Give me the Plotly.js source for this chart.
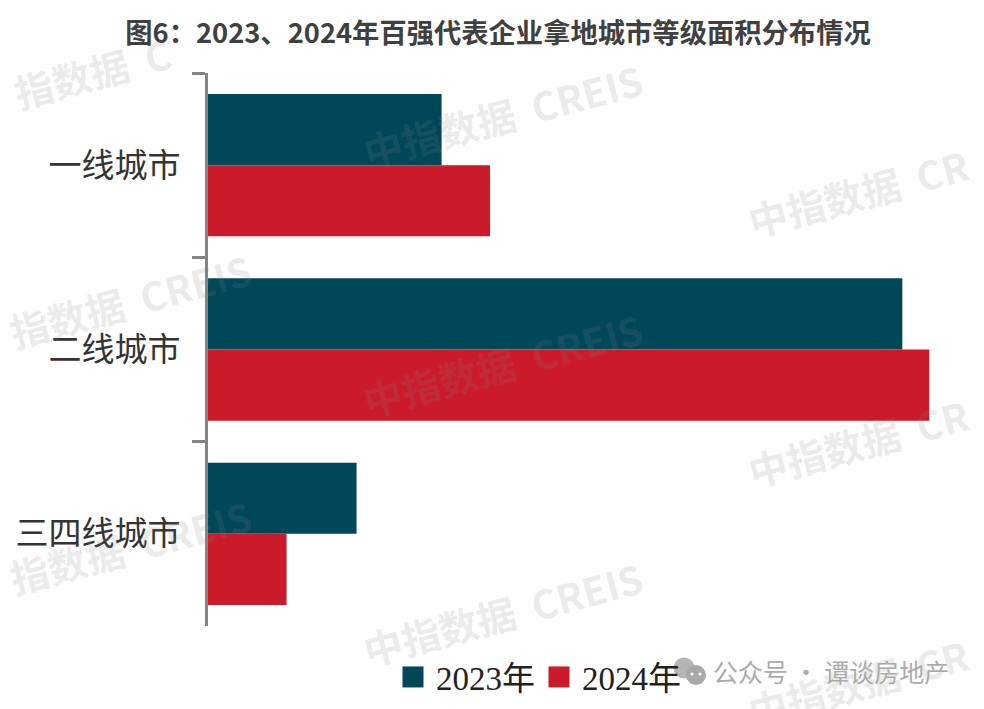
<!DOCTYPE html>
<html><head><meta charset="utf-8">
<script src="https://cdn.plot.ly/plotly-3.0.1.min.js"></script>
<style>html,body{margin:0;padding:0;background:#fff}#c{width:984px;height:709px}</style>
</head><body><div id="c"></div>
<script>
const categories = ["一线城市","二线城市","三四线城市"];
const seriesNames = ["2023年","2024年"];
const values2023 = [21.7, 64.5, 13.8];
const values2024 = [26.2, 67.0, 7.3];
const titleText = "图6：2023、2024年百强代表企业拿地城市等级面积分布情况";
const creditText = "公众号 · 谭谈房地产";
const watermarks = [
 ["指数据  C",92,72],["指数据  CREIS",130,300],["指数据  CREIS",130,546],
 ["中指数据  CREIS",502,115],["中指数据  CREIS",502,364],["中指数据  CREIS",502,613],
 ["中指数据  CR",858,192],["中指数据  CR",858,442],["中指数据  CR",858,682]
];

const W=984,H=709,L=208,T=73,R=44,B=83;
const px=x=>(x-L)/(W-L-R), py=y=>(H-B-y)/(H-T-B);
const wm=watermarks.map(c=>({xref:'paper',yref:'paper',x:px(c[1]),y:py(c[2]),xanchor:'center',yanchor:'middle',
  text:c[0],showarrow:false,textangle:-15,
  font:{family:'"Noto Sans CJK SC"',size:39,weight:700,color:'rgba(130,130,130,0.17)'}}));
const credit={xref:'paper',yref:'paper',x:px(711),y:py(671),xanchor:'left',yanchor:'middle',text:creditText,showarrow:false,
  font:{family:'"Noto Sans CJK SC"',size:25,color:'#ababab'}};
const circ=(cx,cy,r,col)=>({type:'circle',xref:'paper',yref:'paper',layer:'above',x0:px(cx-r),x1:px(cx+r),y0:py(cy+r),y1:py(cy-r),fillcolor:col,line:{width:0}});
const icon=[circ(684,668,10.5,'#b5b5b5'),circ(696,675,10,'#a8a8a8'),circ(692,674,1.5,'#fff'),circ(700,674,1.5,'#fff')];

const data=[
 {type:'bar',orientation:'h',name:seriesNames[0],y:categories,x:values2023,marker:{color:'#01475a'}},
 {type:'bar',orientation:'h',name:seriesNames[1],y:categories,x:values2024,marker:{color:'#cb1b2b'}}
];
const layout={
 width:W,height:H,margin:{l:L,r:R,t:T,b:B,pad:0,autoexpand:false},paper_bgcolor:'#fff',plot_bgcolor:'rgba(0,0,0,0)',
 barmode:'group',bargap:0.228,bargroupgap:0,
 title:{text:titleText,x:498/W,xanchor:'center',y:1-33/H,yanchor:'middle',font:{family:'"Noto Sans CJK SC"',size:27.3,weight:700,color:'#404040'}},
 xaxis:{visible:false,range:[0,68],showgrid:false,zeroline:false},
 yaxis:{type:'category',autorange:'reversed',tickson:'boundaries',ticks:'outside',ticklen:13,tickwidth:3,tickcolor:'#858585',
   showline:true,linewidth:3,linecolor:'#858585',showgrid:false,zeroline:false,ticklabelstandoff:18,
   tickfont:{family:'"Noto Sans CJK SC"',size:33,color:'#333'}},
 legend:{orientation:'h',x:px(396),y:py(677),xanchor:'left',yanchor:'middle',bgcolor:'rgba(0,0,0,0)',itemclick:false,itemdoubleclick:false,
   entrywidth:101,entrywidthmode:'pixels',
   font:{family:'"Liberation Serif","Noto Sans CJK SC"',size:33,color:'#222'}},
 annotations:[...wm,credit],shapes:icon
};
Plotly.newPlot('c',data,layout,{displayModeBar:false,staticPlot:true}).then(gd=>{
  document.querySelectorAll('#c .legend .legendbar path, #c .legend .traces path.legendundefined').forEach(p=>p.setAttribute('transform','translate(17,0) scale(1.75)'));
});
</script></body></html>
